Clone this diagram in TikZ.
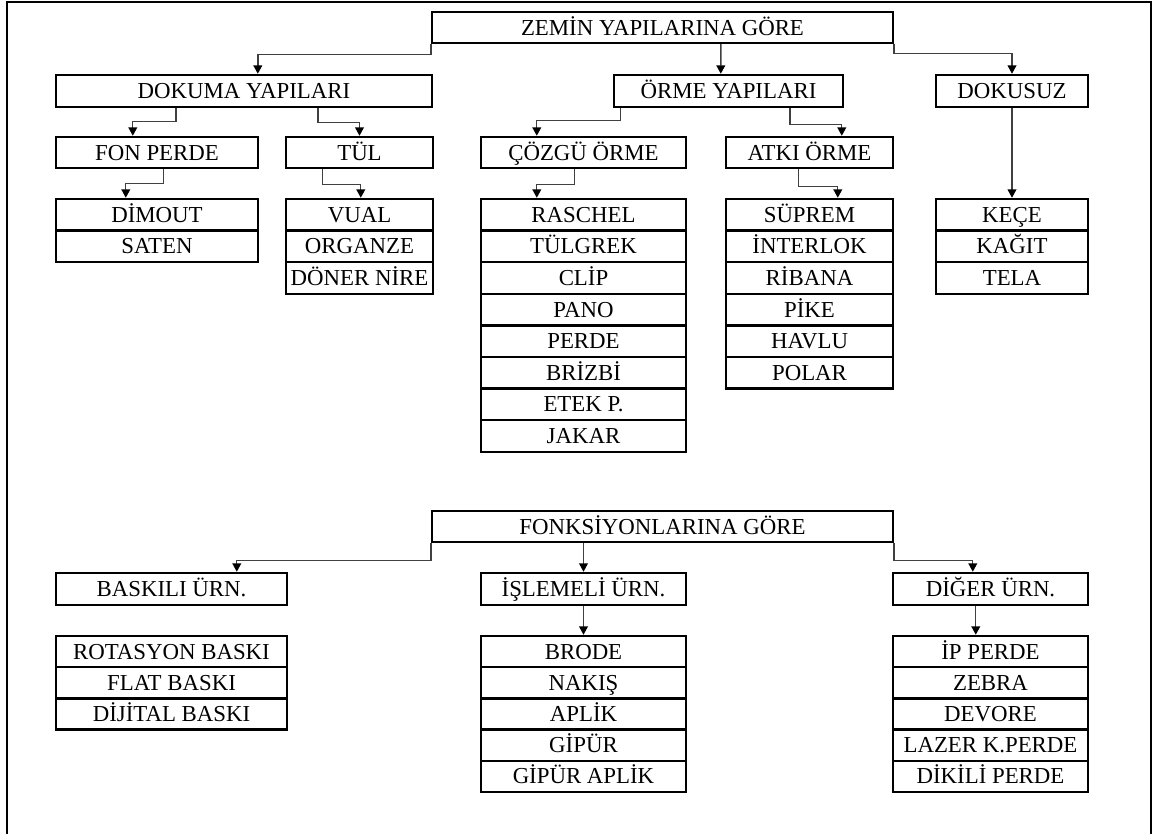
\documentclass[tikz,border=0pt]{standalone}
\usepackage{fontspec}
\setmainfont{Liberation Serif}
\usetikzlibrary{arrows.meta, calc, positioning}

\tikzset{
  box/.style={draw, line width=1.4pt, inner sep=0pt, minimum height=0.62cm,
    text height=9.4pt, text depth=0.8pt,
    font=\fontsize{13}{15}\selectfont},
  item/.style={box, minimum height=0.632cm},
  itemb/.style={box, minimum height=0.624cm},
  link/.style={draw=black!75, line width=0.8pt,
    -{Triangle[width=5pt,length=4.8pt,color=black]}}
}

\begin{document}
\begin{tikzpicture}[x=0.02cm, y=-0.02cm]
  \useasboundingbox (0,0) rectangle (1154,834);
  % Page frame
  \draw[line width=0.6pt] (7,834) -- (7,2) -- (1151,2) -- (1151,834);

  % Zemin yapilarina gore
  \node[box, minimum width=9.22cm] (zemin) at (662.5,27.5) {ZEMİN YAPILARINA GÖRE};
  \node[box, minimum width=7.52cm, minimum height=0.64cm] (dokuma) at (244,91) {DOKUMA YAPILARI};
  \node[box, minimum width=4.58cm, minimum height=0.64cm] (orme) at (728.5,91) {ÖRME YAPILARI};
  \node[box, minimum width=3.04cm, minimum height=0.64cm] (dokusuz) at (1012,91) {DOKUSUZ};

  \node[box, minimum width=4.04cm] (fon) at (157,152.5) {FON PERDE};
  \node[box, minimum width=2.94cm] (tul) at (359.5,152.5) {TÜL};
  \node[box, minimum width=4.10cm] (cozgu) at (583.5,152.5) {ÇÖZGÜ ÖRME};
  \node[box, minimum width=3.34cm] (atki) at (809.5,152.5) {ATKI ÖRME};

  % Lists
  \foreach \t [count=\i] in {DİMOUT, SATEN}
    \node[item, minimum width=4.04cm] (dim\i) at (157, 199+31.6*\i-15.8) {\t};
  \foreach \t [count=\i] in {VUAL, ORGANZE, DÖNER NİRE}
    \node[item, minimum width=2.94cm] (vual\i) at (359.5, 199+31.6*\i-15.8) {\t};
  \foreach \t [count=\i] in {RASCHEL, TÜLGREK, CLİP, PANO, PERDE, BRİZBİ, ETEK P., JAKAR}
    \node[item, minimum width=4.10cm] (rasch\i) at (583.5, 199+31.6*\i-15.8) {\t};
  \foreach \t [count=\i] in {SÜPREM, İNTERLOK, RİBANA, PİKE, HAVLU, POLAR}
    \node[item, minimum width=3.34cm] (supr\i) at (809.5, 199+31.6*\i-15.8) {\t};
  \foreach \t [count=\i] in {KEÇE, KAĞIT, TELA}
    \node[item, minimum width=3.04cm] (kece\i) at (1012, 199+31.6*\i-15.8) {\t};

  % Connectors, top part
  \draw[link] (zemin.south west) -- ++(0,10) -| ($(dokuma.north west)+(203,0)$);
  \draw[link] ($(zemin.south west)+(290,0)$) -- ($(orme.north west)+(108,0)$);
  \draw[link] (zemin.south east) -- ++(0,9) -| (dokusuz.north);
  \draw[link] ($(dokuma.south west)+(121,0)$) -- ++(0,13) -| ($(fon.north west)+(78,0)$);
  \draw[link] ($(dokuma.south west)+(263,0)$) -- ++(0,14) -| (tul.north);
  \draw[link] ($(orme.south west)+(8,0)$) -- ++(0,12) -| ($(cozgu.north west)+(57,0)$);
  \draw[link] ($(orme.south west)+(177,0)$) -- ++(0,16) -| ($(atki.north west)+(117,0)$);
  \draw[link] ($(fon.south west)+(109,0)$) -- ++(0,14) -| ($(dim1.north west)+(71,0)$);
  \draw[link] ($(tul.south west)+(38,0)$) -- ++(0,15) -| ($(vual1.north west)+(76,0)$);
  \draw[link] ($(cozgu.south west)+(95,0)$) -- ++(0,15) -| ($(rasch1.north west)+(57,0)$);
  \draw[link] ($(atki.south west)+(74,0)$) -- ++(0,17) -| ($(supr1.north west)+(113,0)$);
  \draw[link] (dokusuz.south) -- (kece1.north);

  % Fonksiyonlarina gore
  \node[box, minimum width=9.22cm] (fonks) at (662.5,526.5) {FONKSİYONLARINA GÖRE};
  \node[box, minimum width=4.62cm, minimum height=0.64cm] (baskili) at (171.5,589) {BASKILI ÜRN.};
  \node[box, minimum width=4.10cm, minimum height=0.64cm] (islemeli) at (583.5,589) {İŞLEMELİ ÜRN.};
  \node[box, minimum width=3.90cm, minimum height=0.64cm] (diger) at (990.5,589) {DİĞER ÜRN.};

  \foreach \t [count=\i] in {ROTASYON BASKI, FLAT BASKI, DİJİTAL BASKI}
    \node[itemb, minimum width=4.62cm] (rota\i) at (171.5, 636+31.2*\i-15.6) {\t};
  \foreach \t [count=\i] in {BRODE, NAKIŞ, APLİK, GİPÜR, GİPÜR APLİK}
    \node[itemb, minimum width=4.10cm] (brode\i) at (583.5, 636+31.2*\i-15.6) {\t};
  \foreach \t [count=\i] in {İP PERDE, ZEBRA, DEVORE, LAZER K.PERDE, DİKİLİ PERDE}
    \node[itemb, minimum width=3.90cm] (ip\i) at (990.5, 636+31.2*\i-15.6) {\t};

  % Connectors, bottom part
  \draw[link] (fonks.south west) -- ++(0,17) -| ($(baskili.north west)+(182,0)$);
  \draw[link] (islemeli.north |- fonks.south) -- (islemeli.north);
  \draw[link] (fonks.south east) -- ++(0,17) -| ($(diger.north west)+(81,0)$);
  \draw[link] (islemeli.south) -- (brode1.north);
  \draw[link] ($(diger.south west)+(84,0)$) -- ($(ip1.north west)+(84,0)$);
\end{tikzpicture}
\end{document}
